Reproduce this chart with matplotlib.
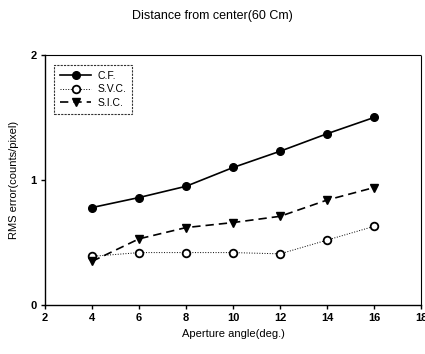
import matplotlib
matplotlib.use("Agg")
import matplotlib.pyplot as plt

angles = [4, 6, 8, 10, 12, 14, 16]
cf = [0.78, 0.86, 0.95, 1.10, 1.23, 1.37, 1.50]
svc = [0.39, 0.42, 0.42, 0.42, 0.41, 0.52, 0.63]
sic = [0.35, 0.53, 0.62, 0.66, 0.71, 0.84, 0.94]
xticks = [2, 4, 6, 8, 10, 12, 14, 16, 18]
yticks = [0, 1, 2]

plt.rcParams['font.family'] = ['Liberation Sans', 'DejaVu Sans']

fig = plt.figure(figsize=(4.25, 3.54), dpi=100)
ax = fig.add_axes([0.106, 0.138, 0.885, 0.707])

ax.plot(angles, cf, '-', color='black', lw=1.2, marker='o', ms=5.5, label='C.F.')
ax.plot(angles, svc, ':', color='black', lw=0.7, marker='o', ms=5.5, mfc='white', mew=1.3, label='S.V.C.')
ax.plot(angles, sic, '--', color='black', lw=1.2, dashes=(5, 3), marker='v', ms=5.5, label='S.I.C.')

ax.set_xlim(2, 18)
ax.set_ylim(0, 2)
ax.set_xticks(xticks)
ax.set_yticks(yticks)
ax.tick_params(direction='out', length=3, width=1, labelsize=8, pad=3)
for lbl in ax.get_xticklabels() + ax.get_yticklabels():
    lbl.set_fontweight('bold')
for s in ['top', 'right']:
    ax.spines[s].set_linestyle((0, (2, 1)))
    ax.spines[s].set_linewidth(0.8)
for s in ['left', 'bottom']:
    ax.spines[s].set_linewidth(1.0)

ax.set_xlabel('Aperture angle(deg.)', fontsize=8, labelpad=4)
ax.set_ylabel('RMS error(counts/pixel)', fontsize=8, labelpad=8)
fig.text(0.5, 0.955, 'Distance from center(60 Cm)', ha='center', va='center', fontsize=9)

leg = ax.legend(loc='upper left', bbox_to_anchor=(0.025, 0.96), fontsize=7.5, frameon=True,
                fancybox=False, handlelength=3.0, borderpad=0.55, labelspacing=0.35,
                handletextpad=0.6, borderaxespad=0)
leg.get_frame().set_edgecolor('black')
leg.get_frame().set_linestyle((0, (2, 1)))
leg.get_frame().set_linewidth(0.8)

fig.savefig('out.png', dpi=100)
